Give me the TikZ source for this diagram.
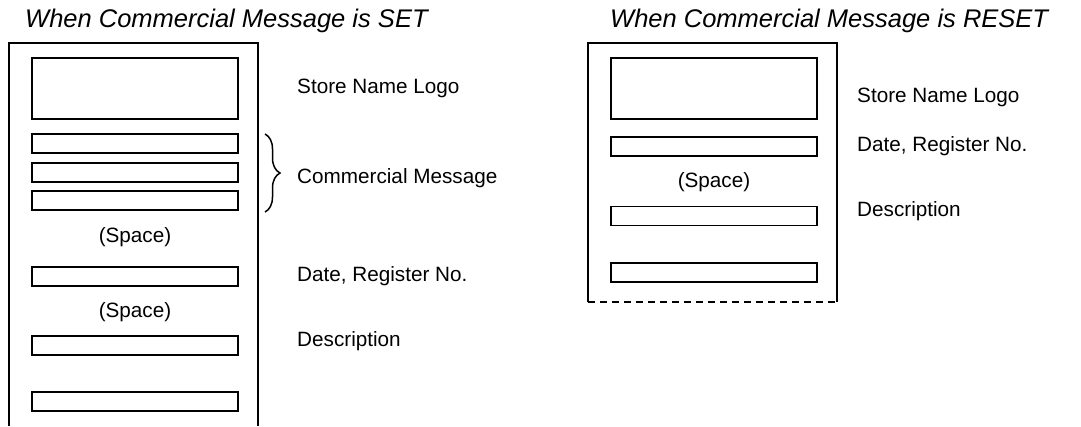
\documentclass[tikz,border=0pt]{standalone}
\usepackage{fontspec}
\setmainfont{Liberation Sans}
\usetikzlibrary{positioning,decorations.pathreplacing}
\tikzset{
  paper/.style={line width=1.5pt},
  bar/.style={draw, line width=1.5pt, minimum width=206pt, minimum height=19pt, inner sep=0pt},
  logobox/.style={bar, minimum height=61pt},
  note/.style={anchor=west, inner sep=0pt, font=\fontsize{20.7pt}{24pt}\selectfont},
  heading/.style={anchor=west, inner sep=0pt, font=\fontsize{25.5pt}{30pt}\selectfont\itshape},
  spacetext/.style={inner sep=0pt, font=\fontsize{20.7pt}{24pt}\selectfont}
}
\begin{document}
\begin{tikzpicture}[x=1pt, y=-1pt]
    \useasboundingbox (0,0) rectangle (1081,426);
    % Titles
    \node[heading] (setTitle) at (25,21) {When Commercial Message is SET};
    \node[heading] (resetTitle) at (610,21) {When Commercial Message is RESET};
    % Receipt with commercial message (open at the bottom)
    \draw[paper] (9,426) -- (9,43) -- (258,43) -- (258,426);
    \node[logobox] (setLogo) at (135,88.5) {};
    \node[bar] (setMsgA) at (135,143.5) {};
    \node[bar] (setMsgB) at (135,172.5) {};
    \node[bar] (setMsgC) at (135,200.5) {};
    \node[spacetext] (setSpaceA) at (135,237) {(Space)};
    \node[bar] (setDate) at (135,276.5) {};
    \node[spacetext] (setSpaceB) at (135,312) {(Space)};
    \node[bar] (setDesc) at (135,345.5) {};
    \node[bar] (setLast) at (135,401.5) {};
    % Brace over the message lines
    \coordinate (braceTop) at (265,134);
    \coordinate (braceBot) at (265,212);
    \draw[line width=1.5pt, decorate, decoration={brace, amplitude=15pt}] (braceTop) -- (braceBot);
    % Labels
    \node[note] (setLogoLbl) at (297,88) {Store Name Logo};
    \node[note] (setMsgLbl) at (297,178) {Commercial Message};
    \node[note] (setDateLbl) at (297,276) {Date, Register No.};
    \node[note] (setDescLbl) at (297,341) {Description};
    % Receipt without commercial message
    \draw[paper] (588,302) -- (588,43) -- (837,43) -- (837,302);
    \draw[paper, dashed, dash pattern=on 7pt off 5pt] (588,302) -- (837,302);
    \node[logobox] (resetLogo) at (714,88.5) {};
    \node[bar] (resetDate) at (714,146.5) {};
    \node[spacetext] (resetSpace) at (714,182) {(Space)};
    \node[bar] (resetDesc) at (714,216) {};
    \node[bar] (resetLast) at (714,272.5) {};
    \node[note] (resetLogoLbl) at (857,97) {Store Name Logo};
    \node[note] (resetDateLbl) at (857,146) {Date, Register No.};
    \node[note] (resetDescLbl) at (857,211) {Description};
\end{tikzpicture}
\end{document}
